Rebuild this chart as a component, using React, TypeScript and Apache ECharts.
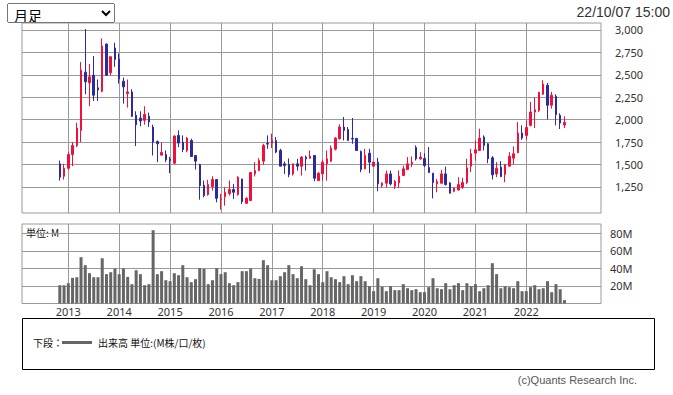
import React, { useEffect, useRef } from 'react';
import * as echarts from 'echarts';

// Monthly candles, Nov 2012 .. Oct 2022 (index 0 = Nov 2012)
const firstMonthOffset = -2; // months relative to Jan 2013
const openP = [
  1508, 1370, 1459, 1612, 1713, 1881, 2530, 2411, 2496, 2355, 2317, 2843, 2523, 2799,
  2675, 2429, 2291, 2310, 2049, 2019, 1993, 2038, 1918, 1757, 1605, 1612,
  1560, 1515, 1825, 1750, 1657, 1769, 1601, 1500, 1269, 1165, 1254, 1333,
  1110, 1142, 1176, 1221, 1165, 1340, 1068, 1098, 1396, 1433, 1538, 1735,
  1739, 1769, 1657, 1508, 1500, 1396, 1508, 1482, 1583, 1571, 1601, 1321,
  1396, 1508, 1538, 1672, 1788, 1918, 1892, 1792, 1792, 1646, 1452, 1627,
  1482, 1527, 1266, 1292, 1396, 1258, 1296, 1377, 1445, 1508, 1691, 1564,
  1567, 1467, 1404, 1284, 1292, 1396, 1295, 1202, 1217, 1247, 1299, 1482,
  1627, 1657, 1806, 1732, 1575, 1396, 1471, 1389, 1482, 1571, 1631, 1851,
  1825, 1937, 2086, 2102, 2284, 2384, 2161, 2261, 2049, 1941,
];
const closeP = [
  1359, 1459, 1612, 1713, 1907, 2552, 2422, 2478, 2273, 2332, 2821, 2496, 2702, 2672,
  2455, 2366, 2310, 2038, 1944, 1985, 2060, 1974, 1750, 1731, 1635, 1553,
  1542, 1818, 1739, 1668, 1795, 1590, 1538, 1266, 1154, 1277, 1333, 1124,
  1116, 1191, 1221, 1191, 1359, 1087, 1124, 1411, 1433, 1545, 1713, 1728,
  1769, 1639, 1482, 1489, 1388, 1508, 1482, 1583, 1564, 1594, 1348, 1403,
  1527, 1564, 1683, 1795, 1918, 1881, 1769, 1784, 1657, 1445, 1601, 1527,
  1527, 1284, 1292, 1396, 1284, 1310, 1370, 1452, 1508, 1527, 1564, 1583,
  1489, 1411, 1299, 1310, 1396, 1277, 1180, 1236, 1277, 1299, 1463, 1620,
  1665, 1795, 1713, 1564, 1385, 1459, 1366, 1500, 1594, 1620, 1851, 1795,
  1914, 2086, 2112, 2306, 2396, 2161, 2273, 2056, 1963, 1970,
];
const lowP = [
  1321, 1333, 1441, 1482, 1695, 1750, 2284, 2153, 2209, 2209, 2306, 2490, 2496, 2590,
  2403, 2179, 2135, 2030, 1706, 1926, 1944, 1918, 1601, 1527, 1605, 1527,
  1404, 1508, 1695, 1638, 1638, 1586, 1445, 1109, 1135, 1154, 1210, 1079,
  997, 1042, 1154, 1116, 1154, 1060, 1060, 1098, 1367, 1426, 1497, 1676,
  1683, 1627, 1482, 1396, 1359, 1377, 1433, 1377, 1433, 1564, 1314, 1321,
  1321, 1321, 1527, 1657, 1780, 1769, 1769, 1732, 1657, 1415, 1452, 1404,
  1482, 1202, 1247, 1247, 1266, 1228, 1240, 1377, 1441, 1471, 1545, 1553,
  1471, 1411, 1124, 1191, 1284, 1266, 1180, 1191, 1210, 1228, 1284, 1415,
  1545, 1657, 1657, 1515, 1333, 1359, 1359, 1303, 1482, 1500, 1631, 1776,
  1776, 1926, 1907, 2086, 2276, 2004, 2124, 1937, 1896, 1907,
];
const highP = [
  1545, 1508, 1638, 1750, 1967, 2642, 3011, 2620, 2709, 2448, 2907, 2850, 2709, 2858,
  2739, 2470, 2448, 2340, 2094, 2094, 2150, 2079, 1944, 1769, 1747, 1657,
  1586, 1825, 1881, 1825, 1806, 1788, 1601, 1508, 1322, 1329, 1370, 1340,
  1172, 1247, 1322, 1284, 1370, 1340, 1135, 1415, 1527, 1571, 1732, 1825,
  1844, 1806, 1676, 1534, 1568, 1508, 1564, 1594, 1601, 1657, 1601, 1415,
  1553, 1657, 1713, 1806, 1948, 2030, 1918, 2019, 1792, 1657, 1676, 1676,
  1527, 1575, 1303, 1433, 1433, 1329, 1434, 1489, 1583, 1590, 1713, 1638,
  1627, 1695, 1404, 1340, 1441, 1478, 1303, 1247, 1359, 1352, 1564, 1676,
  1769, 1900, 1825, 1739, 1594, 1527, 1538, 1500, 1638, 1702, 1974, 1937,
  1993, 2198, 2247, 2306, 2440, 2411, 2310, 2284, 2071, 2038,
];
// Volume in millions
const volumeM = [
  20.8, 20.8, 23.1, 29.2, 29.9, 52.7, 43.6, 34.5, 29.9, 29.9, 51.5, 33.4, 35.6, 39.8,
  33.4, 39.8, 30.3, 22.0, 37.9, 33.4, 20.8, 22.0, 83.4, 33.4, 36.8, 26.5,
  25.4, 34.5, 32.2, 43.6, 29.9, 24.3, 27.7, 40.2, 39.4, 22.0, 26.5, 40.2,
  33.4, 35.6, 23.1, 20.8, 24.3, 36.8, 36.8, 39.8, 28.8, 28.0, 49.3, 43.6,
  26.5, 26.5, 31.1, 35.6, 43.6, 33.4, 28.8, 42.4, 27.7, 20.8, 39.0, 33.4,
  24.3, 36.8, 29.9, 27.7, 24.3, 31.1, 22.0, 32.2, 25.4, 31.1, 25.4, 19.7,
  14.0, 28.8, 19.0, 14.0, 19.7, 15.2, 15.2, 22.0, 17.4, 15.2, 16.3, 12.9,
  12.9, 18.6, 28.8, 17.4, 16.3, 23.1, 16.3, 20.8, 23.1, 15.2, 23.1, 19.7,
  22.0, 14.0, 17.4, 20.8, 45.9, 33.4, 17.4, 19.7, 18.6, 17.4, 25.4, 14.0,
  14.0, 18.6, 20.8, 16.3, 17.4, 25.4, 12.9, 22.0, 16.3, 3.8,
];
const yearLabels = ['2013', '2014', '2015', '2016', '2017', '2018', '2019', '2020', '2021', '2022'];
const priceTicks = [1250, 1500, 1750, 2000, 2250, 2500, 2750, 3000];
const volumeTicks = [20, 40, 60, 80];
const timestampText = '22/10/07 15:00';

const UP = '#f0103c';
const DOWN = '#2b2b9b';
const GRIDC = '#999';

export default function App() {
  const ref = useRef<HTMLDivElement>(null);
  useEffect(() => {
    if (!ref.current) return;
    const chart = echarts.init(ref.current, undefined, { renderer: 'svg' });
    const candleData = openP.map((o, k) => [k + firstMonthOffset, o, closeP[k], lowP[k], highP[k]]);
    const volData = volumeM.map((v, k) => [k + firstMonthOffset, v]);
    const yearPos = yearLabels.map((_, k) => k * 12);
    const xMin = -10.92;
    const xMax = 125.62;
    const axFont = { fontFamily: 'Noto Sans', fontSize: 11, color: '#333' };
    chart.setOption({
      animation: false,
      backgroundColor: '#fff',
      grid: [
        { left: 22, top: 23, width: 579, height: 190, show: true, borderColor: GRIDC, borderWidth: 1 },
        { left: 22, top: 224, width: 579, height: 79.5, show: true, borderColor: GRIDC, borderWidth: 1 },
      ],
      xAxis: [
        {
          gridIndex: 0, type: 'value', min: xMin, max: xMax,
          axisLine: { show: false },
          axisTick: { show: false, customValues: yearPos },
          axisLabel: { show: false, customValues: yearPos },
          splitLine: { show: true, lineStyle: { color: GRIDC, width: 1 } },
        },
        {
          gridIndex: 1, type: 'value', min: xMin, max: xMax,
          axisLine: { show: false },
          axisTick: { show: false, customValues: yearPos },
          axisLabel: {
            show: true, customValues: yearPos, margin: 2, ...axFont,
            formatter: (v: number) => yearLabels[Math.round(v / 12)] ?? '',
          },
          splitLine: { show: true, lineStyle: { color: GRIDC, width: 1 } },
        },
      ],
      yAxis: [
        {
          gridIndex: 0, type: 'value', position: 'right', min: 960, max: 3078,
          axisLine: { show: false },
          axisTick: { show: true, length: 9, lineStyle: { color: GRIDC }, customValues: priceTicks },
          axisLabel: {
            customValues: priceTicks, margin: 14, ...axFont,
            formatter: (v: number) => v.toLocaleString('en-US'),
          },
          splitLine: { show: true, lineStyle: { color: GRIDC, width: 1 } },
        },
        {
          gridIndex: 1, type: 'value', position: 'right', min: 0, max: 90.5,
          axisLine: { show: false },
          axisTick: { show: true, length: 6, lineStyle: { color: GRIDC }, customValues: volumeTicks },
          axisLabel: {
            customValues: volumeTicks, margin: 9, ...axFont,
            formatter: (v: number) => v + 'M',
          },
          splitLine: { show: true, lineStyle: { color: GRIDC, width: 1 } },
        },
      ],
      series: [
        {
          type: 'candlestick', xAxisIndex: 0, yAxisIndex: 0, data: candleData, barWidth: 2,
          itemStyle: { color: UP, color0: DOWN, borderColor: UP, borderColor0: DOWN, borderWidth: 1 },
        },
        {
          type: 'bar', xAxisIndex: 1, yAxisIndex: 1, data: volData, barWidth: 3,
          itemStyle: { color: '#666' },
        },
      ],
      graphic: [
        {
          type: 'text', left: null, x: 670, y: 12,
          style: { text: timestampText, textAlign: 'right', textVerticalAlign: 'middle', fontFamily: 'Liberation Sans', fontSize: 14, fill: '#333' },
        },
        {
          type: 'text', x: 26, y: 232,
          style: { text: '単位: M', textVerticalAlign: 'middle', fontFamily: 'Noto Sans CJK JP', fontSize: 10, fill: '#111', backgroundColor: '#fff' },
        },
        {
          type: 'rect', shape: { x: 22.5, y: 318.5, width: 632, height: 51 },
          style: { fill: 'none', stroke: '#000', lineWidth: 1 },
        },
        {
          type: 'text', x: 33, y: 342.5,
          style: { text: '下段：', textVerticalAlign: 'middle', fontFamily: 'Noto Sans CJK JP', fontSize: 10, fill: '#111' },
        },
        {
          type: 'line', shape: { x1: 62, y1: 342.5, x2: 92, y2: 342.5 },
          style: { stroke: '#666', lineWidth: 3 },
        },
        {
          type: 'text', x: 98, y: 342.5,
          style: { text: '出来高 単位:(M株/口/枚)', textVerticalAlign: 'middle', fontFamily: 'Noto Sans CJK JP', fontSize: 10, fill: '#111' },
        },
        {
          type: 'text', x: 637, y: 380,
          style: { text: '(c)Quants Research Inc.', textAlign: 'right', textVerticalAlign: 'middle', fontFamily: 'Liberation Sans', fontSize: 11, fill: '#555' },
        },
      ],
    });
    return () => chart.dispose();
  }, []);
  return (
    <div>
      <div ref={ref} style={{ position: 'fixed', left: 0, top: 0, width: 673, height: 395, background: '#fff' }} />
      <select
        defaultValue="m"
        style={{ position: 'fixed', left: 7, top: 3, width: 108, height: 20, fontSize: 14, fontFamily: '"Noto Sans CJK JP"', zIndex: 10, padding: '0 2px' }}
      >
        <option value="m">月足</option>
      </select>
    </div>
  );
}
